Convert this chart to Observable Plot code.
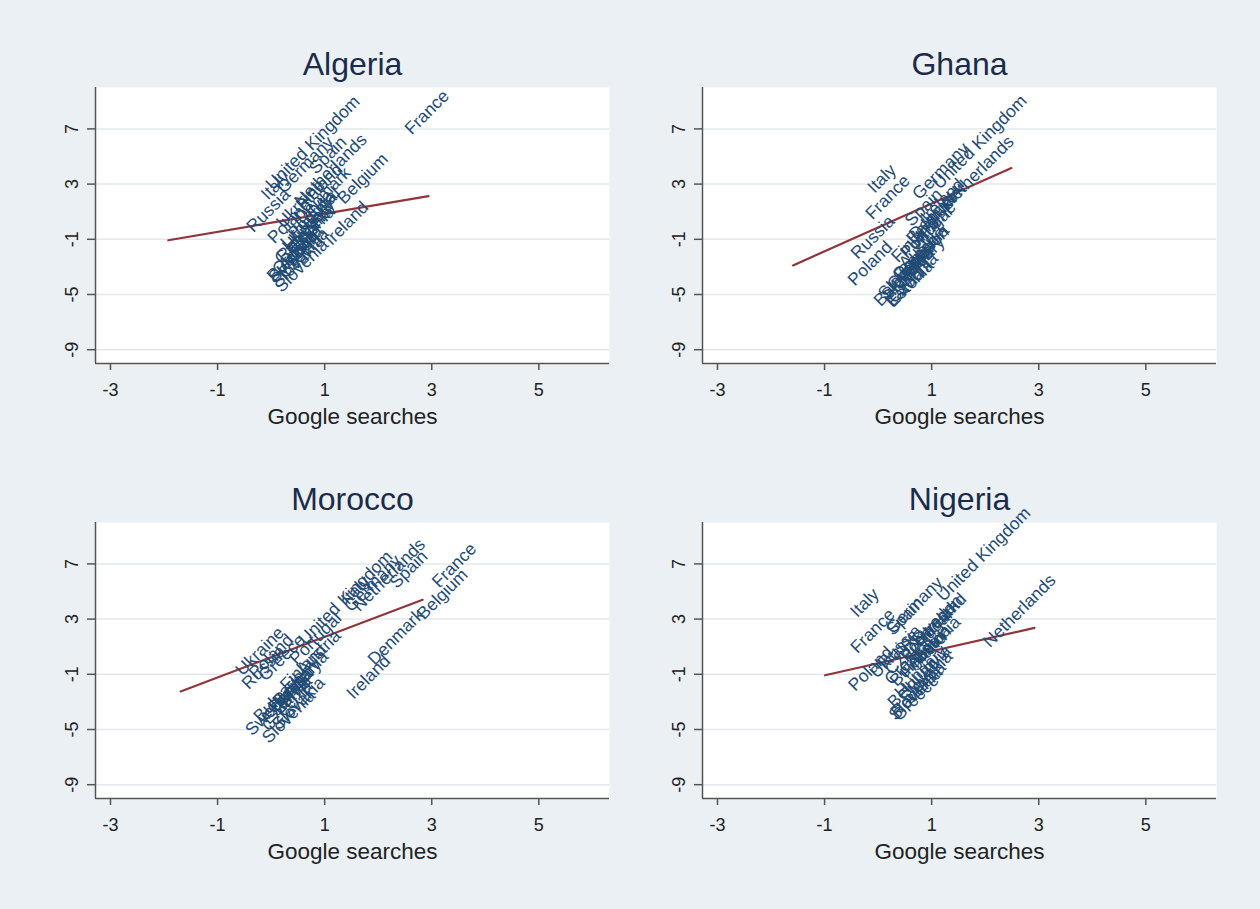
<!DOCTYPE html>
<html><head><meta charset="utf-8">
<script src="https://cdn.jsdelivr.net/npm/d3@7"></script>
<script src="https://cdn.jsdelivr.net/npm/@observablehq/plot@0.6"></script>
<style>
html,body{margin:0;padding:0;background:#eaf0f3;}
#chart{position:relative;width:1260px;height:909px;background:#eaf0f3;overflow:hidden;}
.panel{position:absolute;}
</style></head><body><div id="chart"></div>
<script>
// ---- axes ----
const xDomain = [-3.28, 6.32];
const yDomain = [-10, 10];
const xTicks = [-3, -1, 1, 3, 5];
const yTicks = [-9, -5, -1, 3, 7];
const xLabel = "Google searches";

// ---- Algeria ----
const algeriaNames = ["France","United Kingdom","Germany","Spain","Netherlands","Italy","Russia","Denmark","Belgium","Ireland","Portugal","Poland","Ukraine","Finland","Hungary","Romania","Greece","Austria","Croatia","Sweden","Slovakia","Bulgaria","Czechia","Slovenia","Estonia","Latvia","Lithuania"];
const algeriaX = [2.91,0.78,0.64,1.06,1.11,0.08,-0.05,0.96,1.71,1.41,0.80,0.35,0.55,0.90,0.70,0.62,0.50,0.55,0.45,0.42,0.50,0.40,0.60,0.57,0.75,0.80,0.70];
const algeriaY = [8.2,6.0,4.4,5.1,4.0,2.9,1.1,2.2,3.4,0.16,0.9,0.3,1.6,2.8,0.0,-0.6,-1.1,-1.6,-1.9,-2.3,-2.6,-2.2,-2.0,-2.9,-0.3,1.2,0.4];
const algeriaFitX = [-1.92, 2.94];
const algeriaFitY = [-1.07, 2.13];

// ---- Ghana ----
const ghanaNames = ["Italy","France","Russia","Poland","United Kingdom","Germany","Netherlands","Spain","Finland","Ireland","Belgium","Denmark","Portugal","Austria","Greece","Sweden","Croatia","Slovakia","Hungary","Romania","Slovenia","Bulgaria","Czechia","Ukraine","Latvia","Estonia"];
const ghanaX = [0.07,0.18,-0.10,-0.15,1.90,1.17,1.86,0.85,0.68,1.20,1.00,1.10,0.90,0.80,0.70,0.85,0.60,0.55,0.75,0.81,0.50,0.40,0.65,1.00,0.50,0.60];
const ghanaY = [3.4,2.05,-0.85,-2.75,6.05,3.95,3.87,1.3,-1.0,1.8,0.5,1.0,-0.5,-1.5,-2.3,-1.9,-3.0,-3.5,-2.7,-1.95,-3.4,-4.0,-3.8,0.0,-4.5,-4.2];
const ghanaFitX = [-1.59, 2.49];
const ghanaFitY = [-2.89, 4.16];

// ---- Morocco ----
const moroccoNames = ["Ukraine","Russia","Poland","Greece","United Kingdom","Italy","Germany","Netherlands","Spain","Portugal","Austria","Denmark","Ireland","France","Belgium","Slovenia","Slovakia","Sweden","Estonia","Bulgaria","Croatia","Hungary","Romania","Czechia","Latvia","Finland"];
const moroccoX = [-0.21,-0.14,0.00,0.20,1.39,1.58,1.90,2.20,2.57,0.83,0.89,2.33,1.82,3.42,3.20,0.33,0.51,-0.01,0.27,0.15,0.35,0.45,0.55,0.30,0.40,0.60];
const moroccoY = [0.68,-0.5,0.3,0.2,4.55,5.1,5.6,6.2,6.6,1.6,0.6,1.7,-1.2,6.9,4.8,-4.07,-3.1,-3.6,-2.9,-2.6,-2.2,-1.8,-1.3,-3.3,-2.5,-0.5];
const moroccoFitX = [-1.69, 2.83];
const moroccoFitY = [-2.24, 4.4];

// ---- Nigeria ----
const nigeriaNames = ["Italy","France","Germany","Spain","United Kingdom","Netherlands","Ireland","Poland","Croatia","Belgium","Greece","Romania","Slovenia","Portugal","Denmark","Austria","Sweden","Finland","Hungary","Czechia","Slovakia","Bulgaria","Russia","Ukraine","Latvia","Estonia"];
const nigeriaX = [-0.25,-0.10,0.68,0.50,1.97,2.64,1.24,-0.14,0.55,0.65,0.70,0.75,0.70,0.90,1.00,0.95,1.10,0.85,0.80,0.60,0.90,0.70,0.40,0.30,1.00,1.10];
const nigeriaY = [4.18,2.14,4.0,3.2,7.7,3.6,3.3,-0.6,-0.1,-1.6,-2.7,-2.1,-2.4,1.8,2.4,1.0,2.9,0.4,-0.8,0.8,-1.2,0.0,1.0,0.5,-0.3,1.5];
const nigeriaFitX = [-0.99, 2.92];
const nigeriaFitY = [-1.07, 2.36];

const FONT = "'Liberation Sans', Arial, Helvetica, sans-serif";

function panel(title, names, xs, ys, fitX, fitY) {
  const pts = names.map((n, i) => ({name: n, x: xs[i], y: ys[i]}));
  const fit = fitX.map((x, i) => ({x, y: fitY[i]}));
  return Plot.plot({
    width: 630, height: 401,
    marginLeft: 95, marginRight: 21, marginTop: 50, marginBottom: 75,
    x: {domain: xDomain},
    y: {domain: yDomain},
    style: {background: "transparent", fontFamily: FONT, color: "#222", overflow: "visible"},
    marks: [
      Plot.frame({fill: "white", stroke: null}),
      Plot.gridY(yTicks, {stroke: "#e4e8ea", strokeOpacity: 1, strokeWidth: 1.5}),
      Plot.ruleX([xDomain[0]], {stroke: "#555", strokeWidth: 1.5}),
      Plot.ruleY([yDomain[0]], {stroke: "#555", strokeWidth: 1.5}),
      Plot.axisX(xTicks, {tickSize: 7, tickPadding: 13, fontSize: 18, label: null, tickFormat: d => String(d), stroke: "#555", strokeWidth: 1.5, fill: "#222"}),
      Plot.axisY(yTicks, {tickSize: 8, tickPadding: 10, tickRotate: -90, fontSize: 18, label: null, tickFormat: d => String(d), stroke: "#555", strokeWidth: 1.5, fill: "#222"}),
      Plot.line(fit, {x: "x", y: "y", stroke: "#90353b", strokeWidth: 2.2}),
      Plot.text(pts, {x: "x", y: "y", text: "name", rotate: -45, fontSize: 17.5, fill: "#1f4b75"}),
      Plot.text([title], {text: d => d, frameAnchor: "top", dy: -13, lineAnchor: "bottom", fontSize: 32, fill: "#1c2b4b"}),
      Plot.text([xLabel], {text: d => d, frameAnchor: "bottom", dy: 60, lineAnchor: "bottom", fontSize: 22.5, fill: "#222"})
    ]
  });
}

const chart = document.getElementById("chart");
const panels = [
  {p: panel("Algeria", algeriaNames, algeriaX, algeriaY, algeriaFitX, algeriaFitY), left: 0, top: 37},
  {p: panel("Ghana", ghanaNames, ghanaX, ghanaY, ghanaFitX, ghanaFitY), left: 607, top: 37},
  {p: panel("Morocco", moroccoNames, moroccoX, moroccoY, moroccoFitX, moroccoFitY), left: 0, top: 472},
  {p: panel("Nigeria", nigeriaNames, nigeriaX, nigeriaY, nigeriaFitX, nigeriaFitY), left: 607, top: 472}
];
for (const {p, left, top} of panels) {
  const d = document.createElement("div");
  d.className = "panel";
  d.style.left = left + "px";
  d.style.top = top + "px";
  d.appendChild(p);
  chart.appendChild(d);
}
</script></body></html>
